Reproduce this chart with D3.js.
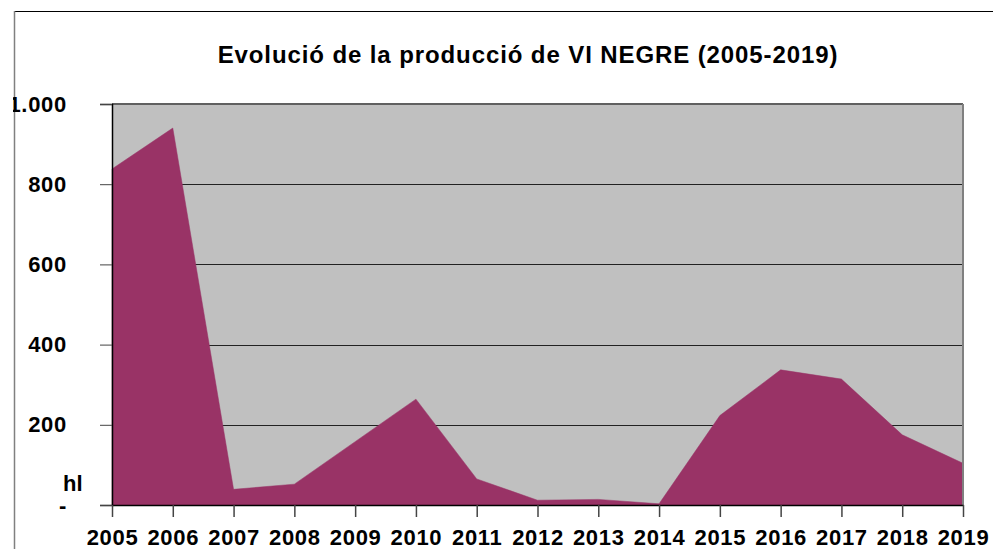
<!DOCTYPE html>
<html>
<head>
<meta charset="utf-8">
<script src="https://cdn.jsdelivr.net/npm/d3@7"></script>
<style>
  body { margin: 0; background: #fff; }
  svg { display: block; font-family: "Liberation Sans", Arial, sans-serif; }
</style>
</head>
<body>
<div id="chart"></div>
<script>
var years = ["2005", "2006", "2007", "2008", "2009", "2010", "2011", "2012",
             "2013", "2014", "2015", "2016", "2017", "2018", "2019"];
var produccio = [838, 940, 39, 52, 158, 264, 65, 12, 14, 3, 223, 337, 314, 175, 104];
var yTicks = [0, 200, 400, 600, 800, 1000];
var yTickLabels = ["-", "200", "400", "600", "800", "1.000"];

var W = 993, H = 549;
var margin = { top: 104, right: 30, bottom: 44, left: 112 },
    width = 963 - margin.left,
    height = 505 - margin.top;

var svg = d3.select("#chart").append("svg")
  .attr("width", W)
  .attr("height", H);

svg.append("clipPath").attr("id", "frame")
  .append("rect").attr("x", 13).attr("y", 0).attr("width", W).attr("height", H);

var root = svg.append("g").attr("clip-path", "url(#frame)");

// outer frame (only top and left visible)
root.append("line").attr("x1", 14).attr("x2", W).attr("y1", 11.5).attr("y2", 11.5)
  .attr("stroke", "#000").attr("stroke-width", 1);
root.append("line").attr("x1", 14.5).attr("x2", 14.5).attr("y1", 11).attr("y2", H)
  .attr("stroke", "#808080").attr("stroke-width", 1.5);

root.append("text")
  .attr("x", 528).attr("y", 63)
  .attr("text-anchor", "middle")
  .style("font-size", "24px").style("font-weight", "bold")
  .style("letter-spacing", "0.9px")
  .text("Evolució de la producció de VI NEGRE (2005-2019)");

var g = root.append("g")
  .attr("transform", "translate(" + margin.left + "," + margin.top + ")");

var x = d3.scalePoint().domain(years).range([0, width]);
var y = d3.scaleLinear().domain([0, 1000]).range([height, 0]);

g.append("rect").attr("width", width).attr("height", height).attr("fill", "#c0c0c0");

// gridlines
g.selectAll(".grid")
  .data(yTicks.filter(function (d) { return d > 0 && d < 1000; }))
  .enter().append("line")
  .attr("class", "grid")
  .attr("x1", 0).attr("x2", width)
  .attr("y1", function (d) { return Math.round(y(d)) + 0.5; })
  .attr("y2", function (d) { return Math.round(y(d)) + 0.5; })
  .attr("stroke", "#222").attr("stroke-width", 1);

var data = years.map(function (d, i) { return { year: d, v: produccio[i] }; });

var area = d3.area()
  .x(function (d) { return x(d.year); })
  .y0(y(0))
  .y1(function (d) { return y(d.v); });

g.append("path").datum(data)
  .attr("d", area)
  .attr("fill", "#993366")
  .attr("stroke", "#993366").attr("stroke-width", 0.5);

// plot border
g.append("line").attr("x1", 0).attr("x2", width).attr("y1", 0).attr("y2", 0)
  .attr("stroke", "#606060").attr("stroke-width", 2);
g.append("line").attr("x1", width).attr("x2", width).attr("y1", 0).attr("y2", height)
  .attr("stroke", "#808080").attr("stroke-width", 2);

// y axis
var yAxis = d3.axisLeft(y)
  .tickValues(yTicks)
  .tickSize(12)
  .tickPadding(33)
  .tickFormat(function (d, i) { return yTickLabels[i]; });

var ya = g.append("g").attr("class", "y-axis").call(yAxis);
ya.select(".domain").attr("stroke", "#000").attr("stroke-width", 1.5);
ya.selectAll(".tick line").attr("stroke", "#444");
ya.selectAll(".tick text")
  .attr("fill", "#000")
  .style("font-size", "22px").style("font-weight", "bold")
  .style("letter-spacing", "0.7px")
  .style("font-family", "'Liberation Sans', Arial, sans-serif");

// x axis
var xAxis = d3.axisBottom(x).tickSize(12).tickPadding(12).tickSizeOuter(0);
var xa = g.append("g").attr("class", "x-axis")
  .attr("transform", "translate(0," + height + ")")
  .call(xAxis);
xa.select(".domain").attr("stroke", "#000").attr("stroke-width", 1.5);
xa.selectAll(".tick line").attr("stroke", "#444").attr("stroke-width", 1.5);
xa.selectAll(".tick text")
  .attr("fill", "#000")
  .style("font-size", "22px").style("font-weight", "bold")
  .style("letter-spacing", "0.7px")
  .style("font-family", "'Liberation Sans', Arial, sans-serif");

// unit label
root.append("text")
  .attr("x", 63).attr("y", 491)
  .style("font-size", "22px").style("font-weight", "bold")
  .text("hl");
</script>
</body>
</html>
